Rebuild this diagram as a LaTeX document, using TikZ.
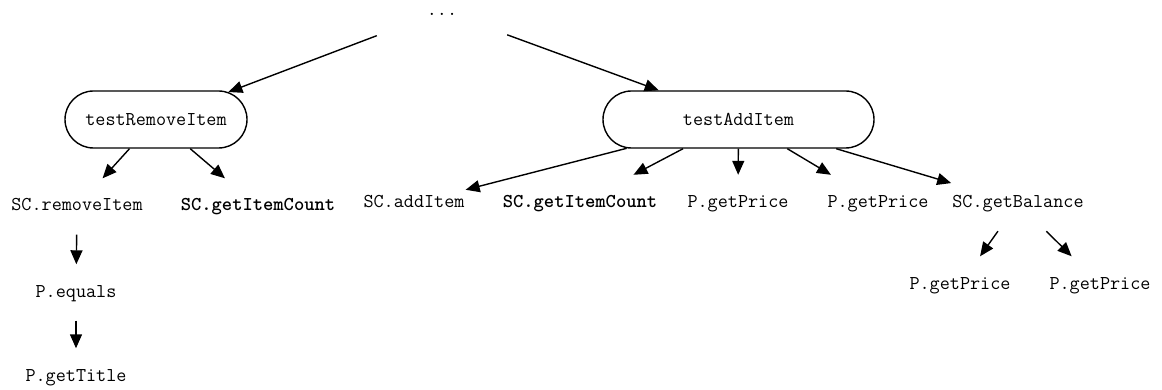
\documentclass[tikz,border=0pt]{standalone}
\usetikzlibrary{arrows.meta,shapes.misc}
\begin{document}
\begin{tikzpicture}[x=1pt, y=-1pt,
    call/.style={font=\ttfamily\fontsize{19.6}{22}\selectfont, text height=13pt, text depth=4pt, inner xsep=1pt, inner ysep=19.5pt, anchor=base},
    hot/.style={call, font=\ttfamily\bfseries\fontsize{19.6}{22}\selectfont},
    test/.style={rounded rectangle, draw, line width=1.4pt, inner sep=0pt, minimum height=57pt, font=\ttfamily\fontsize{19.6}{22}\selectfont},
    link/.style={-{Triangle[length=14pt,width=12pt]}, line width=1.4pt}]
    \useasboundingbox (0,0) rectangle (1162,390);
    % 根
    \node[call, minimum width=130pt, inner ysep=16pt] (dots) at (442,15.5) {...};
    % 测试用例
    \node[test, minimum width=182pt] (rem) at (156,119.5) {testRemoveItem};
    \node[test, minimum width=271pt] (add) at (738.5,119.5) {testAddItem};
    \draw[link] (dots) -- (rem);
    \draw[link] (dots) -- (add);
    % testRemoveItem 的调用
    \node[call] (rmi) at (77,211) {SC.removeItem};
    \node[hot] (cntA) at (258,211) {SC.getItemCount};
    \node[call] (eq) at (76,297) {P.equals};
    \node[call] (title) at (76,381) {P.getTitle};
    \draw[link] (rem) -- (rmi);
    \draw[link] (rem) -- (cntA);
    \draw[link] (rmi) -- (eq);
    \draw[link] (eq) -- (title);
    % testAddItem 的调用
    \node[call] (addi) at (414,207.5) {SC.addItem};
    \node[hot] (cntB) at (580,207.5) {SC.getItemCount};
    \node[call] (pr1) at (738,207.5) {P.getPrice};
    \node[call] (pr2) at (878,207.5) {P.getPrice};
    \node[call] (bal) at (1018,207.5) {SC.getBalance};
    \node[call] (pr3) at (960,289) {P.getPrice};
    \node[call] (pr4) at (1100,289) {P.getPrice};
    \foreach \c in {addi,cntB,pr1,pr2,bal}
        \draw[link] (add) -- (\c);
    \draw[link] (bal) -- (pr3);
    \draw[link] (bal) -- (pr4);
\end{tikzpicture}
\end{document}
